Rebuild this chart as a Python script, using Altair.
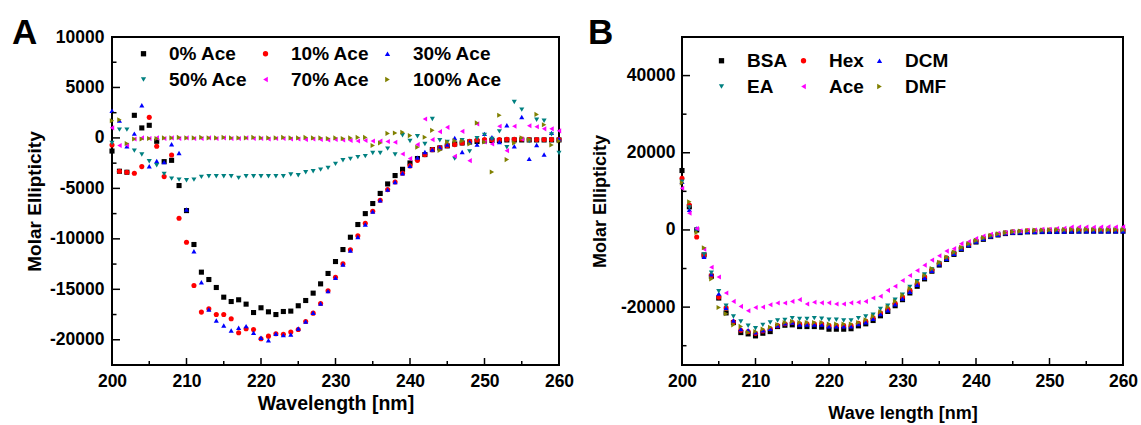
import altair as alt
import pandas as pd

FONT = "Liberation Sans"

# ---------------- data ----------------
wavelength = list(range(200, 261))

a_names = ["0% Ace", "10% Ace", "30% Ace", "50% Ace", "70% Ace", "100% Ace"]
b_names = ["BSA", "Hex", "DCM", "EA", "Ace", "DMF"]
colors = ["#000000", "#FF0000", "#0000FF", "#008080", "#FF00FF", "#808000"]
shapes = ["square", "circle", "triangle-up", "triangle-down", "triangle-left", "triangle-right"]

a_0 = [-1300, -3300, -3400, 2240, 990, 1250, -330, -2350, -2220, -4720,
       -7200, -10560, -13300, -14030, -14820, -15780, -16210, -16040, -16470, -17300,
       -16830, -17230, -17500, -17200, -17160, -16630, -16110, -15380, -14460, -13430,
       -12250, -11060, -9840, -8580, -7500, -6500, -5500, -4560, -3730, -3110,
       -2480, -2040, -1650, -1160, -990, -790, -600, -500, -400, -350,
       -300, -250, -250, -200, -200, -200, -200, -200, -200, -200,
       -200]
a_10 = [-700, -3300, -3400, -3500, -2840, 2040, -830, -3830, -1690, -7960,
        -10330, -14620, -17260, -16930, -17490, -17490, -17920, -19300, -18910, -18980,
        -19900, -19640, -19400, -19450, -19240, -18980, -18190, -17360, -16400, -15150,
        -13800, -12480, -11090, -9700, -8450, -7260, -6180, -5120, -4360, -3500,
        -2770, -2220, -1650, -1160, -990, -760, -660, -500, -330, -200,
        -170, -170, -170, -130, -130, -100, -150, -150, -150, -150,
        -150]
a_30 = [2700, 1710, -830, 430, 3230, -2810, -2280, -2400, -630, -1490,
        -7100, -11230, -14300, -17000, -18090, -18580, -19080, -18810, -18650, -19300,
        -19800, -20040, -19400, -19540, -19470, -18880, -18190, -17330, -16400, -15180,
        -13870, -12540, -11160, -9810, -8580, -7300, -6180, -5120, -4360, -3500,
        -2770, -1950, -1390, -1160, -930, -660, 0, -1390, -400, -660,
        400, 60, -400, 1250, -830, 2080, -2080, -700, -1650, 500,
        -100]
a_50 = [-500, 820, 820, -1260, -1650, -2310, -2710, -3560, -4030, -4130,
        -4200, -4130, -3860, -3800, -3800, -3800, -3800, -3960, -3800, -3800,
        -3800, -3800, -3800, -3800, -3630, -3700, -3400, -3300, -3140, -2970,
        -2570, -2210, -2080, -1900, -1800, -1500, -1490, -1060, -1650, 260,
        -300, 160, -600, 1880, -230, -400, -2050, -230, -1330, -40,
        300, -100, 650, -930, 3560, 2800, -300, 1800, 1700, 350,
        -1500]
a_70 = [1000, -750, -700, -100, 0, -50, 0, -50, 0, -50,
        0, -50, -50, 0, -50, 0, -50, -50, 0, -50,
        -50, -100, -50, -50, -100, -100, -150, -100, -150, -200,
        -150, -200, -250, -300, -250, -300, -300, -350, -430, -1590,
        -2050, -660, 1880, -170, 620, 1050, -1820, 650, -2250, 1390,
        -400, -600, 1150, -1260, 1150, -100, 1200, 1100, 900, 900,
        700]
a_100 = [1700, 1800, -560, -100, -100, -50, -50, 0, 0, 50,
         0, 0, 50, 0, 0, 50, 0, 0, 0, 50,
         0, 0, 0, 50, 0, 0, 50, 0, 0, -50,
         0, -50, 0, 50, 50, -750, -500, 450, 490, 560,
         230, -930, 60, 750, -1230, -400, -270, -300, -600, 1490,
         -400, -3370, 2240, -2150, -500, 0, -150, 2330, 1300, -700,
         -300]

b_bsa = [15400, 6000, 0, -6500, -12000, -17650, -21500, -24000, -26600, -26940,
         -27460, -26770, -26340, -25040, -24700, -24600, -25040, -25040, -25040, -25190,
         -25720, -25720, -25720, -25600, -24850, -24330, -23470, -22250, -21120, -19640,
         -18070, -16330, -14600, -12690, -10700, -9100, -7640, -6340, -5030, -3990,
         -3130, -2430, -1720, -1300, -940, -680, -680, -500, -500, -420,
         -400, -400, -350, -350, -300, -300, -300, -300, -300, -300,
         -300]
b_hex = [13400, 6440, -1820, -6500, -11800, -17400, -20200, -23800, -26000, -26340,
         -26800, -26200, -25600, -24800, -24300, -24000, -24300, -24300, -24300, -24300,
         -24800, -24800, -24800, -24800, -24200, -23600, -22800, -21500, -20500, -19000,
         -17400, -15600, -13900, -12100, -10300, -8600, -7200, -5900, -4700, -3700,
         -2800, -2100, -1500, -1100, -750, -500, -400, -250, -200, -100,
         -50, 0, 0, 50, 50, 50, 50, 0, 0, 0,
         0]
b_dcm = [12500, 5200, 365, -6950, -11500, -16500, -20200, -23470, -25700, -26000,
         -26500, -26000, -25600, -24800, -24200, -24000, -24500, -24500, -24500, -24500,
         -25000, -25000, -25000, -25000, -24400, -23900, -23000, -21800, -20800, -19300,
         -17800, -16000, -14200, -12400, -10600, -8900, -7500, -6200, -4900, -3900,
         -3000, -2300, -1650, -1250, -900, -650, -600, -500, -450, -400,
         -400, -400, -400, -350, -350, -350, -350, -350, -350, -350,
         -350]
b_ea = [12500, 5840, 0, -6340, -11110, -15900, -19640, -22430, -23730, -24850,
        -25460, -24600, -23990, -23470, -23300, -22850, -23100, -23100, -22850, -23000,
        -23290, -23290, -23470, -23470, -22850, -22430, -21990, -20500, -19640, -18070,
        -16770, -14760, -13300, -11550, -10250, -8690, -7300, -6000, -4800, -3800,
        -2900, -2200, -1600, -1150, -800, -550, -450, -300, -250, -200,
        -150, -100, -100, -50, -50, -50, -50, -100, -100, -100,
        -100]
b_ace = [10800, 4350, 365, -5000, -9650, -12200, -16350, -18520, -19820, -20940,
         -20080, -19990, -19380, -18930, -18930, -18520, -18070, -19200, -18750, -18900,
         -18900, -19200, -19200, -18900, -18750, -18520, -17650, -17200, -15650, -14600,
         -13120, -11820, -10520, -9130, -7820, -6700, -5480, -4850, -3550, -3030,
         -2240, -1560, -1130, -860, -680, -420, -250, -80, 0, 180,
         180, 350, 440, 780, 780, 780, 700, 750, 800, 750,
         800]
b_dmf = [12200, 7300, -680, -4600, -12690, -20080, -21730, -24600, -25000, -26500,
         -26300, -25700, -25200, -24500, -24000, -23700, -24000, -24000, -24000, -24000,
         -24400, -24400, -24400, -24400, -24000, -23300, -22400, -21200, -20000, -18500,
         -16900, -15200, -13500, -11800, -10000, -8400, -7000, -5700, -4500, -3500,
         -2700, -2000, -1400, -1000, -700, -450, -300, -150, -50, 0,
         50, 100, 100, 150, 150, 150, 100, 100, 100, 100,
         100]

x_major = [200, 210, 220, 230, 240, 250, 260]
x_minor = [205, 215, 225, 235, 245, 255]
a_y_major = [-20000, -15000, -10000, -5000, 0, 5000, 10000]
a_y_minor = [-22500, -17500, -12500, -7500, -2500, 2500, 7500]
b_y_major = [-20000, 0, 20000, 40000]
b_y_minor = [-30000, -10000, 10000, 30000]

# legend fills column by column (2 rows): reorder so rows read left to right
LEG_ORDER = [0, 3, 1, 4, 2, 5]


def long_frame(names, series):
    rows = []
    for name, vals in zip(names, series):
        for w, v in zip(wavelength, vals):
            rows.append({"wl": w, "val": v, "series": name})
    return pd.DataFrame(rows)


def panel(names, series, ydom, ymaj, ymin, W, H, leg_x, leg_y, leg_colpad, letter, letter_x,
          xtitle, xtitle_size, xtitle_pad, ytitle_size, yextent, ylabel_pad, ytitle_pad):
    df = long_frame(names, series)
    xs = alt.Scale(domain=[200, 260], nice=False, zero=False)
    ys = alt.Scale(domain=ydom, nice=False, zero=False)
    x_axis = alt.Axis(
        values=x_major, title=xtitle, ticks=False, domain=False, grid=False,
        labelFont=FONT, labelFontSize=17.5, labelFontWeight="bold", labelColor="black",
        labelPadding=7, labelFlush=False,
        titleFont=FONT, titleFontSize=xtitle_size, titleFontWeight="bold",
        titleColor="black", titlePadding=xtitle_pad)
    y_axis = alt.Axis(
        values=ymaj, title="Molar Ellipticity", ticks=False, domain=False, grid=False,
        labelExpr="'' + datum.value",
        labelFont=FONT, labelFontSize=17.5, labelFontWeight="bold", labelColor="black",
        labelPadding=ylabel_pad, minExtent=yextent, maxExtent=yextent,
        titleFont=FONT, titleFontSize=ytitle_size, titleFontWeight="bold",
        titleColor="black", titlePadding=ytitle_pad)
    leg = alt.Legend(title=None, orient="none", legendX=leg_x, legendY=leg_y,
                     columns=3, labelFont=FONT, labelFontSize=19, labelFontWeight="bold",
                     labelColor="black", symbolSize=28, symbolStrokeWidth=0,
                     labelOffset=16, columnPadding=leg_colpad, rowPadding=6, padding=0)
    dom = [names[i] for i in LEG_ORDER]
    col_rng = [colors[i] for i in LEG_ORDER]
    shp_rng = [shapes[i] for i in LEG_ORDER]
    pts = alt.Chart(df).mark_point(filled=True, size=26, opacity=1).encode(
        x=alt.X("wl:Q", scale=xs, axis=x_axis),
        y=alt.Y("val:Q", scale=ys, axis=y_axis),
        color=alt.Color("series:N", scale=alt.Scale(domain=dom, range=col_rng), legend=leg),
        shape=alt.Shape("series:N", scale=alt.Scale(domain=dom, range=shp_rng), legend=leg),
    )
    xt1 = alt.Chart(pd.DataFrame({"wl": x_major})).mark_rule(color="black", strokeWidth=1.5).encode(
        x=alt.X("wl:Q", scale=xs, axis=x_axis), y=alt.value(H), y2=alt.value(H - 7))
    xt2 = alt.Chart(pd.DataFrame({"wl": x_minor})).mark_rule(color="black", strokeWidth=1.5).encode(
        x=alt.X("wl:Q", scale=xs, axis=x_axis), y=alt.value(H), y2=alt.value(H - 4))
    yt1 = alt.Chart(pd.DataFrame({"val": ymaj})).mark_rule(color="black", strokeWidth=1.5).encode(
        y=alt.Y("val:Q", scale=ys, axis=y_axis), x=alt.value(0), x2=alt.value(8))
    yt2 = alt.Chart(pd.DataFrame({"val": ymin})).mark_rule(color="black", strokeWidth=1.5).encode(
        y=alt.Y("val:Q", scale=ys, axis=y_axis), x=alt.value(0), x2=alt.value(4.5))
    lab = alt.Chart(pd.DataFrame({"t": [letter]})).mark_text(
        font=FONT, fontSize=35, fontWeight="bold", color="black",
        align="left", baseline="alphabetic").encode(
        text="t:N", x=alt.value(letter_x), y=alt.value(7))
    return alt.layer(pts, xt1, xt2, yt1, yt2, lab).properties(width=W, height=H)


pa = panel(a_names, [a_0, a_10, a_30, a_50, a_70, a_100], [-22500, 10000],
           a_y_major, a_y_minor, 447, 328, 22, 7, 8, "A", -100,
           "Wavelength [nm]", 19.5, 5, 19, 56, 8, 12)
pb = panel(b_names, [b_bsa, b_hex, b_dcm, b_ea, b_ace, b_dmf], [-35000, 50000],
           b_y_major, b_y_minor, 441, 328, 30, 14, 6, "B", -94,
           "Wave length [nm]", 18, 15, 18, 60, 7, 13)

chart = alt.hconcat(pa, pb, spacing=12).resolve_scale(
    color="independent", shape="independent"
).resolve_legend(color="independent", shape="independent").properties(
    padding={"left": 11, "top": 15, "right": 0, "bottom": 0},
    background="white"
).configure_view(stroke="black", strokeWidth=2)

chart.save("out.html", embed_options={"renderer": "svg", "actions": False})
